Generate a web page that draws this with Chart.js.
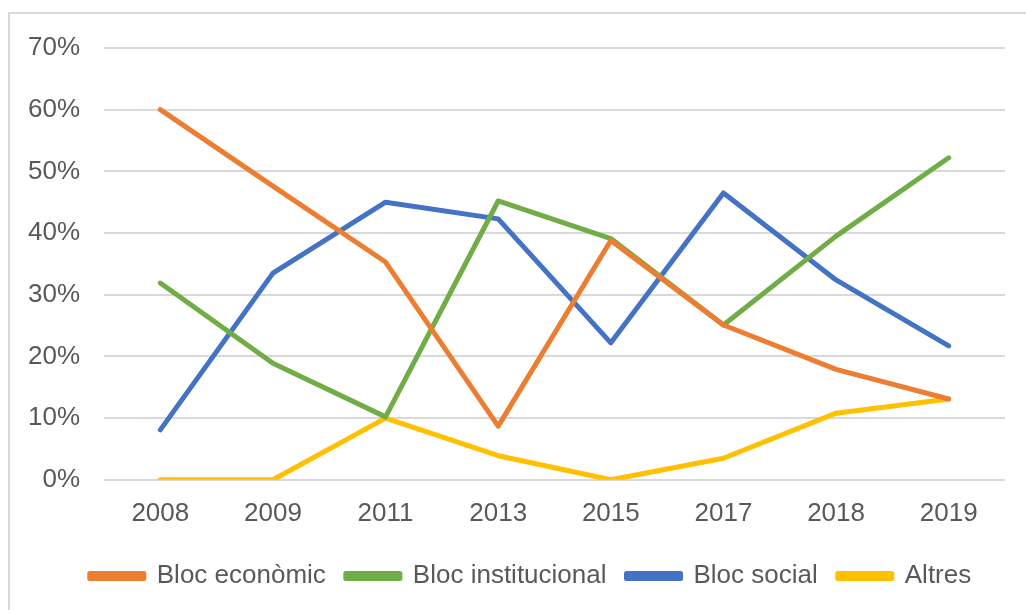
<!DOCTYPE html>
<html>
<head>
<meta charset="utf-8">
<script src="https://cdn.jsdelivr.net/npm/chart.js@4/dist/chart.umd.min.js"></script>
<style>
  html, body { margin: 0; padding: 0; background: #fff; }
  #wrap { position: relative; width: 1026px; height: 610px; }
  #frame { position: absolute; left: 8px; top: 12px; width: 1030px; height: 620px;
           border-top: 2px solid #d9d9d9; border-left: 2px solid #d9d9d9; }
  canvas { position: absolute; left: 0; top: 0; }
</style>
</head>
<body>
<div id="wrap">
  <div id="frame"></div>
  <canvas id="chart" width="1026" height="610"></canvas>
</div>
<script>
const years = ['2008', '2009', '2011', '2013', '2015', '2017', '2018', '2019'];
const blocEconomic = [60, 47.6, 35.3, 8.7, 38.8, 25.1, 17.9, 13.1];
const blocInstitucional = [31.9, 18.9, 10.2, 45.2, 39.1, 25.1, 39.5, 52.2];
const blocSocial = [8.1, 33.5, 45.0, 42.3, 22.2, 46.5, 32.4, 21.7];
const altres = [0, 0, 10.0, 3.9, 0, 3.5, 10.8, 13.1];

const textColor = '#595959';
const fontFam = "'Liberation Sans', Arial, sans-serif";

let makeSet = function(label, values, color) {
  return {
    label: label,
    data: values,
    borderColor: color,
    backgroundColor: color,
    borderWidth: 5,
    pointRadius: 0,
    tension: 0,
    fill: false,
    borderCapStyle: 'round',
    borderJoinStyle: 'round'
  };
};

// the legend in the original is centred under the plot area, not the whole canvas
const legendShift = {
  id: 'legendShift',
  afterLayout(chart) {
    chart.legend.left += 56;
  }
};

const config = {
  type: 'line',
  data: {
    labels: years,
    datasets: [
      makeSet('Bloc econòmic', blocEconomic, '#ED7D31'),
      makeSet('Bloc institucional', blocInstitucional, '#70AD47'),
      makeSet('Bloc social', blocSocial, '#4472C4'),
      makeSet('Altres', altres, '#FFC000')
    ]
  },
  options: {
    responsive: false,
    animation: false,
    layout: { padding: { left: 0, right: 21, top: 48, bottom: 11 } },
    plugins: {
      tooltip: { enabled: false },
      legend: {
        position: 'bottom',
        labels: {
          color: textColor,
          font: { family: fontFam, size: 26 },
          boxWidth: 54,
          boxHeight: 5,
          padding: 20
        }
      }
    },
    scales: {
      x: {
        offset: true,
        afterFit: (s) => { s.height = s.height - 4; },
        grid: { display: false, drawTicks: false },
        border: { display: false },
        ticks: { color: textColor, font: { family: fontFam, size: 26 }, padding: 18, maxRotation: 0 }
      },
      y: {
        min: 0,
        max: 70,
        afterFit: (s) => { s.width = 104; },
        grid: { color: '#d9d9d9', lineWidth: 2, drawTicks: false },
        border: { display: false },
        ticks: {
          stepSize: 10,
          color: textColor,
          font: { family: fontFam, size: 26 },
          padding: 24,
          callback: (v) => v + '%'
        }
      }
    }
  },
  plugins: [legendShift]
};

new Chart(document.getElementById('chart'), config);
</script>
</body>
</html>
